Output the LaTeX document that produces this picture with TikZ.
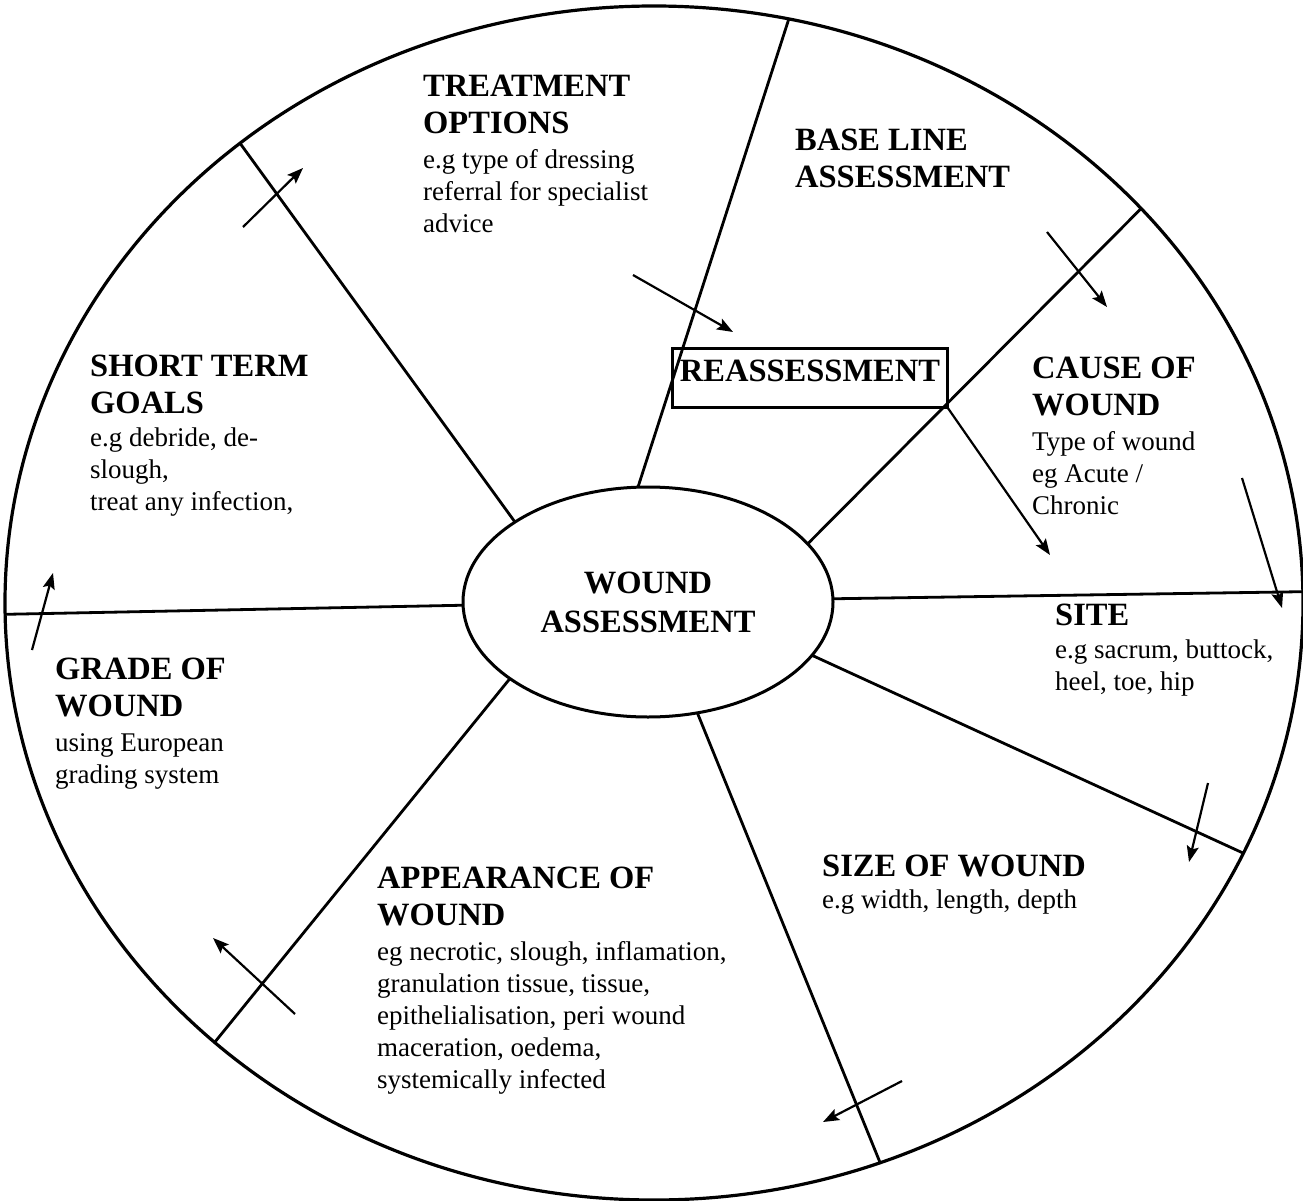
\documentclass[tikz,border=0pt]{standalone}
\usepackage{fontspec}
\setmainfont{Liberation Serif}
\usetikzlibrary{shapes,arrows.meta,positioning}

\newcommand{\zonehead}[1]{{\fontsize{32.5}{37}\selectfont\bfseries #1}}

\tikzset{
    wheel/.style={ellipse, draw=black, line width=3.2pt, minimum width=1298pt, minimum height=1194pt, inner sep=0pt, outer sep=0pt},
    hub/.style={ellipse, draw=black, line width=3pt, minimum width=370pt, minimum height=230pt, inner sep=0pt, outer sep=0pt, align=center, font=\fontsize{32.5}{39}\selectfont\bfseries},
    reassessbox/.style={rectangle, draw=black, line width=2.6pt, minimum width=275pt, inner xsep=6pt, inner ysep=3pt, outer sep=0pt, text height=30pt, text depth=23pt, font=\fontsize{32.5}{40}\selectfont\bfseries},
    zone/.style={anchor=north west, align=left, inner sep=0pt, font=\fontsize{27}{32}\selectfont},
    spoke/.style={line width=2.8pt},
    arrow/.style={line width=2.2pt, -{Stealth[length=16pt, width=12pt, inset=3pt]}}
}

\begin{document}
\begin{tikzpicture}[x=1pt, y=-1pt]

% Page frame
\useasboundingbox (0,0) rectangle (1303,1201);

% Outer wheel and centre
\node[wheel] (wheel) at (654,603) {};
\node[hub] (hub) at (648,602) {WOUND\\ASSESSMENT};

% Spokes from centre to rim
\draw[spoke] (hub.95) -- (wheel.77);
\draw[spoke] (hub.20) -- (wheel.39);
\draw[spoke] (hub.1) -- (wheel.1);
\draw[spoke] (hub.342) -- (wheel.337);
\draw[spoke] (hub.294) -- (wheel.292);
\draw[spoke] (hub.209) -- (wheel.225);
\draw[spoke] (hub.181) -- (wheel.181);
\draw[spoke] (hub.149) -- (wheel.132);

% Sector texts, clockwise from the top
\node[zone] (treat) at (423,75) {\zonehead{TREATMENT}\\[5pt]\zonehead{OPTIONS}\\[3pt]e.g type of dressing\\referral for specialist\\advice};
\node[zone] (baseline) at (795,129) {\zonehead{BASE LINE}\\[5pt]\zonehead{ASSESSMENT}};
\node[zone] (cause) at (1032,357) {\zonehead{CAUSE OF}\\[5pt]\zonehead{WOUND}\\[3pt]Type of wound\\eg Acute /\\Chronic};
\node[zone] (site) at (1055,604) {\zonehead{SITE}\\[1pt]e.g sacrum, buttock,\\heel, toe, hip};
\node[zone] (size) at (822,855) {\zonehead{SIZE OF WOUND}\\e.g width, length, depth};
\node[zone] (appear) at (377,867) {\zonehead{APPEARANCE OF}\\[5pt]\zonehead{WOUND}\\[3pt]eg necrotic, slough, inflamation,\\granulation tissue, tissue,\\epithelialisation, peri wound\\maceration, oedema,\\systemically infected};
\node[zone] (grade) at (55,658) {\zonehead{GRADE OF}\\[5pt]\zonehead{WOUND}\\[3pt]using European\\grading system};
\node[zone] (goals) at (90,355) {\zonehead{SHORT TERM}\\[5pt]\zonehead{GOALS}\\[1pt]e.g debride, de-\\slough,\\treat any infection,};

% Reassessment box
\node[reassessbox] (reassess) at (810,378) {REASSESSMENT};

% Arrow ends
\coordinate (goals_a) at (243,227);  \coordinate (goals_b) at (303,168);
\coordinate (treat_a) at (633,275);  \coordinate (treat_b) at (733,332);
\coordinate (base_a) at (1047,232);  \coordinate (base_b) at (1107,307);
\coordinate (reassess_b) at (1050,555);
\coordinate (cause_a) at (1242,478); \coordinate (cause_b) at (1282,608);
\coordinate (site_a) at (1208,783);  \coordinate (site_b) at (1189,862);
\coordinate (size_a) at (902,1081);  \coordinate (size_b) at (823,1122);
\coordinate (appear_a) at (295,1014); \coordinate (appear_b) at (213,938);
\coordinate (grade_a) at (32,650);   \coordinate (grade_b) at (53,573);

% Cycle arrows
\draw[arrow] (goals_a) -- (goals_b);
\draw[arrow] (treat_a) -- (treat_b);
\draw[arrow] (base_a) -- (base_b);
\draw[arrow] (reassess.south east) -- (reassess_b);
\draw[arrow] (cause_a) -- (cause_b);
\draw[arrow] (site_a) -- (site_b);
\draw[arrow] (size_a) -- (size_b);
\draw[arrow] (appear_a) -- (appear_b);
\draw[arrow] (grade_a) -- (grade_b);

\end{tikzpicture}
\end{document}
